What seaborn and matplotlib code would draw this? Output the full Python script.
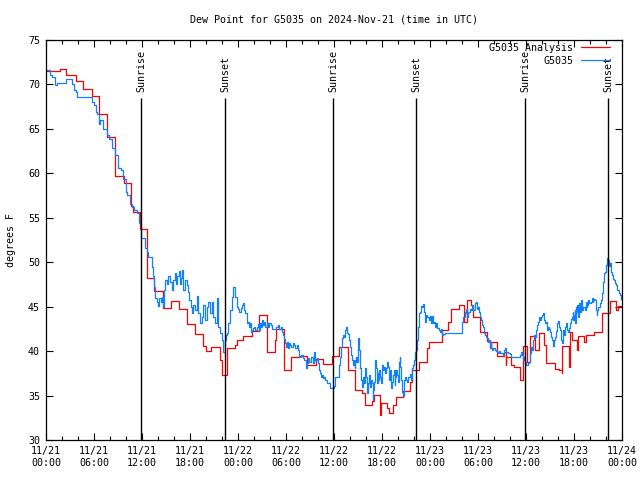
import matplotlib
matplotlib.use("Agg")
import matplotlib.pyplot as plt
import matplotlib.dates as mdates
from matplotlib.lines import Line2D
import pandas as pd
import seaborn as sns

# ---------------- data (hours after 2024-11-21 00:00 UTC, degrees F) ----------------
START = pd.Timestamp("2024-11-21 00:00")

red_hours = [0, 1.75, 2.5, 3.7, 4.67, 5.8, 6.6, 7.67, 8.6, 9.75, 10.67, 10.9, 11.8, 12.58,
             13.5, 14.58, 15.58, 16.6, 17.58, 18.6, 19.67, 20.0, 20.58, 21.7, 21.95, 22.67,
             23.6, 23.9, 24.67, 25.7, 26.58, 27.65, 28.6, 28.75, 29.7, 30.6, 31.58, 32.58,
             33.75, 34.67, 35.7, 36.67, 37.7, 38.67, 39.5, 39.9, 40.75, 40.96, 41.8, 41.9,
             42.6, 42.9, 43.33, 43.75, 44.6, 45.54, 45.75, 46.58, 47.6, 47.9, 49.5, 50.25,
             50.6, 51.58, 52.2, 52.67, 53.17, 53.4, 54.25, 55.17, 55.46, 55.67, 56.35, 57.25,
             57.45, 57.5, 58.17, 58.5, 59.3, 59.65, 60.17, 60.5, 61.1, 61.6, 62.25, 62.5,
             63.6, 64.1, 64.45, 64.55, 65.4, 65.5, 65.8, 66.4, 66.5, 67.25, 67.46, 68.5,
             69.45, 70.45, 71.25, 71.5, 72.0]
red_values = [71.5, 71.7, 71.06, 70.4, 69.45, 68.66, 66.67, 64.05, 59.66, 58.9, 56.3, 55.7, 53.7, 48.2,
              46.8, 44.8, 45.6, 44.7, 43.1, 41.9, 40.6, 40.0, 40.5, 39.0, 37.3, 40.4,
              40.7, 41.2, 41.7, 42.3, 44.1, 39.9, 41.25, 42.45, 37.9, 39.3, 39.5, 38.4,
              39.1, 38.6, 39.45, 40.5, 37.9, 35.6, 35.25, 33.9, 34.4, 35.06, 32.8, 34.2,
              33.56, 33.0, 33.9, 34.8, 35.5, 36.56, 37.9, 38.8, 40.3, 41.0, 42.4, 43.3,
              44.7, 45.2, 43.3, 45.8, 45.2, 43.8, 42.1, 41.1, 40.3, 41.06, 39.45, 39.9,
              38.4, 39.3, 38.4, 38.2, 36.75, 40.6, 38.8, 41.75, 40.1, 42.0, 40.7, 38.7,
              37.95, 37.85, 37.5, 40.6, 38.25, 42.2, 41.25, 40.1, 41.7, 41.06, 41.8, 42.2,
              44.3, 45.65, 44.6, 45.1, 45.1]

blue_hours = [
    0, 0.5, 0.79, 1.125, 1.33, 2.46, 3.3, 3.5, 3.7, 3.92, 5.8, 6.0, 6.2, 6.42, 6.6, 6.75,
    7.17, 7.67, 7.875, 8.3, 8.625, 9.0, 9.42, 9.67, 9.96, 10.17, 10.5, 10.8, 11.0, 11.33,
    11.625, 11.83, 11.92,
    11.96, 12.375, 12.58, 12.79, 13.21, 13.33, 13.5, 13.625, 13.83, 14.04, 14.17, 14.33,
    14.46, 14.58, 14.75, 14.92, 15.08, 15.29, 15.5, 15.71, 15.92, 16.125, 16.25, 16.42,
    16.58, 16.71, 16.83, 17.0, 17.17, 17.375, 17.58, 17.71, 17.92, 18.08, 18.25, 18.42,
    18.625, 18.83, 19.04, 19.25, 19.46, 19.67, 19.875, 20.08, 20.29, 20.5, 20.71, 20.92,
    21.125, 21.33, 21.54, 21.75, 21.96, 22.17, 22.375, 22.5, 22.67, 22.79, 23.0, 23.21,
    23.42, 23.625, 23.83, 24.04,
    24.17, 24.375, 24.5, 24.67, 24.79, 24.92, 25.08, 25.21, 25.33, 25.5, 25.625, 25.75,
    25.92, 26.04, 26.17, 26.33, 26.46, 26.58, 26.75, 26.875, 27.0, 27.17, 27.29, 27.42,
    27.58, 27.71, 27.92, 28.125, 28.25, 28.54, 28.75, 28.96, 29.17, 29.375, 29.5, 29.67,
    29.79, 29.92, 30.0, 30.125, 30.21, 30.33, 30.5, 30.625, 30.83, 31.04, 31.17, 31.33,
    31.46, 31.67, 31.875, 32.08, 32.29, 32.5, 32.58, 32.71, 32.92, 33.125, 33.33, 33.54,
    33.67, 33.83, 33.96, 34.08, 34.25, 34.375, 34.5, 34.67, 34.79, 34.92, 35.08, 35.33,
    35.54, 35.83, 36.04, 36.17,
    36.25, 36.5, 36.67, 36.79, 36.92, 37.0, 37.125, 37.21, 37.33, 37.42, 37.5, 37.625,
    37.75, 37.92, 38.04, 38.17, 38.25, 38.33, 38.46, 38.58, 38.67, 38.75, 38.875, 39.0,
    39.08, 39.17, 39.29, 39.42, 39.5, 39.58, 39.71, 39.83, 39.92, 40.04, 40.17, 40.25,
    40.33, 40.42, 40.54, 40.67, 40.75, 40.83, 40.92, 41.0, 41.08, 41.17, 41.29, 41.42,
    41.5, 41.58, 41.67, 41.79, 41.92, 42.0, 42.08, 42.21, 42.42, 42.5, 42.625, 42.75,
    42.83, 42.92, 43.04, 43.17, 43.25, 43.375, 43.46, 43.58, 43.67, 43.79, 43.875, 44.0,
    44.08, 44.21, 44.29, 44.42, 44.5, 44.58, 44.71, 44.83, 45.0, 45.125, 45.25, 45.42,
    45.54, 45.67, 45.75, 45.875, 45.96, 46.08, 46.17, 46.25, 46.375, 46.5, 46.58, 46.79,
    46.92, 47.0, 47.08, 47.21, 47.33, 47.42, 47.54, 47.67, 47.83, 48.0, 48.125, 48.25,
    48.375, 48.5, 48.67, 48.79, 48.92, 49.08, 49.21, 49.33, 49.5, 49.625, 49.83, 51.92,
    52.0, 52.125, 52.33, 52.42, 52.54, 52.67, 52.75, 52.96, 53.17, 53.29, 53.42, 53.58,
    53.71, 53.83, 53.92, 54.0, 54.125, 54.21, 54.33, 54.42, 54.54, 54.625, 54.75, 54.83,
    54.96, 55.08, 55.25, 55.375, 55.46, 55.58, 55.67, 55.79, 55.92, 56.08, 56.21, 56.33,
    56.5, 56.625, 56.75, 56.92, 57.125, 57.25, 57.42, 57.54, 57.75, 57.96, 58.17, 59.2,
    59.33, 59.5, 59.625, 59.75, 59.92, 60.04,
    60.25, 60.375, 60.5, 60.58, 60.67, 60.79, 60.92, 61.0, 61.125, 61.21, 61.33, 61.42,
    61.5, 61.625, 61.75, 61.83, 61.92, 62.04, 62.125, 62.25, 62.33, 62.46, 62.58, 62.67,
    62.75, 62.875, 63.0, 63.08, 63.17, 63.29, 63.42, 63.5, 63.58, 63.71, 63.83, 63.92,
    64.04, 64.125, 64.25, 64.33, 64.42, 64.5, 64.58, 64.67, 64.75, 64.83, 64.96, 65.08,
    65.25, 65.375, 65.5, 65.58, 65.71, 65.83, 65.92, 66.0, 66.08, 66.17, 66.25, 66.33,
    66.42, 66.5, 66.58, 66.67, 66.75, 66.83, 66.92, 67.04, 67.17, 67.33, 67.46, 67.58,
    67.67, 67.79, 67.92, 68.08, 68.21, 68.33, 68.42, 68.5, 68.625, 68.71, 68.83, 68.92,
    69.0, 69.125, 69.25, 69.42, 69.54, 69.67, 69.75, 69.875, 70.0, 70.08, 70.17, 70.29,
    70.42, 70.5, 70.58, 70.67, 70.79, 70.92, 71.0, 71.125, 71.25, 71.42, 71.58, 71.75,
    71.83, 72.0]
blue_values = [
    71.6, 71.06, 70.87, 69.94, 70.2, 70.58, 70.1, 69.4, 69.2, 68.55, 68.06, 67.7, 66.9, 66.67, 65.6, 66.0,
    64.95, 64.3, 63.86, 62.9, 62.06, 60.6, 60.4, 59.4, 57.93, 57.56, 56.6, 56.25, 55.9, 55.5,
    54.45, 53.6, 52.7,
    52.7, 51.56, 51.19, 50.63, 49.5, 48.4, 47.25, 45.94, 45.56, 45.08, 45.94, 45.56,
    46.05, 44.93, 46.9, 48.0, 47.6, 48.4, 47.8, 46.9, 48.0, 48.75, 47.6, 48.4,
    49.05, 47.6, 48.2, 49.1, 46.9, 48.0, 47.4, 46.7, 45.75, 44.93, 44.25, 45.19,
    44.63, 46.2, 44.25, 43.13, 43.88, 45.19, 43.5, 45.0, 45.56, 44.25, 45.56, 43.88,
    43.13, 45.94, 42.75, 42.0, 41.25, 39.94, 41.25, 41.8, 42.0, 43.13, 44.63, 46.13,
    47.25, 46.13, 45.0, 44.7,
    44.44, 44.8, 45.19, 45.37, 44.63, 44.25, 43.13, 43.31, 42.75, 43.13, 42.19, 42.38,
    42.56, 42.75, 42.38, 42.75, 43.05, 42.38, 43.13, 42.75, 43.5, 42.94, 43.31, 42.75,
    43.2, 42.75, 43.13, 42.94, 42.45, 42.45, 42.75, 42.94, 42.45, 42.68, 42.19, 41.81,
    41.33, 40.88, 40.5, 41.06, 40.31, 40.88, 40.69, 40.5, 40.88, 40.69, 40.31, 40.69,
    40.13, 39.38, 39.56, 39.19, 39.0, 38.06, 38.63, 39.19, 38.81, 39.3, 38.7, 39.94,
    39.0, 39.19, 38.63, 37.88, 37.5, 37.13, 37.31, 36.94, 37.13, 36.75, 36.38, 36.38,
    35.81, 35.81, 36.08, 37.05,
    37.05, 37.05, 38.44, 39.38, 40.5, 41.44, 41.81, 41.63, 42.08, 42.38, 42.75, 42.08,
    41.93, 41.25, 40.5, 39.56, 39.0, 38.44, 39.0, 38.06, 38.81, 39.38, 38.81, 41.44,
    40.88, 40.13, 38.06, 36.75, 36.0, 37.13, 36.38, 36.75, 38.06, 37.13, 35.25, 36.38,
    36.94, 37.31, 36.0, 36.75, 36.38, 34.5, 35.63, 36.56, 37.13, 39.0, 38.06, 36.38,
    37.5, 36.75, 37.88, 37.13, 36.38, 38.44, 37.88, 38.18, 37.5, 38.06, 38.81, 38.25,
    37.88, 36.75, 37.88, 35.81, 36.56, 37.31, 37.88, 36.19, 37.13, 37.88, 37.31, 36.56,
    38.81, 39.38, 38.25, 36.75, 35.44, 34.95, 36.75, 37.13, 36.75, 36.56, 37.13, 37.13,
    37.43, 36.75, 38.06, 38.44, 39.0, 39.38, 39.94, 40.13, 41.25, 42.75, 44.25, 44.44,
    45.08, 45.0, 45.3, 44.44, 44.06, 43.31, 44.06, 43.88, 43.5, 43.95, 43.13, 43.95,
    43.13, 43.31, 42.75, 43.13, 42.56, 42.38, 42.19, 42.45, 41.81, 41.93, 42.0, 42.0,
    43.31, 43.88, 44.44, 44.25, 44.7, 43.88, 44.44, 44.7, 44.63, 45.19, 44.63, 45.38,
    45.56, 45.38, 44.7, 45.0, 44.44, 43.88, 43.69, 43.5, 42.94, 42.75, 42.08, 41.81,
    41.63, 41.44, 41.06, 41.25, 40.5, 40.88, 40.31, 40.13, 40.31, 40.13, 40.05, 39.94,
    39.83, 40.05, 39.75, 39.83, 39.56, 40.13, 40.31, 39.94, 39.75, 39.68, 39.3, 39.56,
    39.94, 39.56, 39.0, 39.38, 38.81, 38.44,
    38.63, 38.81, 39.75, 40.13, 40.5, 40.13, 41.25, 41.81, 41.63, 42.38, 42.68, 42.94,
    43.31, 43.8, 43.5, 43.58, 43.88, 44.06, 44.33, 43.5, 43.13, 43.31, 42.68, 42.38,
    42.75, 42.45, 42.19, 42.0, 41.55, 41.25, 40.58, 41.25, 41.63, 42.3, 42.75, 43.13,
    43.43, 42.75, 42.38, 42.0, 41.25, 40.88, 41.63, 42.38, 41.81, 42.75, 43.2, 42.38,
    42.19, 42.56, 43.13, 43.58, 43.88, 44.44, 43.5, 44.06, 44.63, 43.13, 45.0, 44.44,
    45.19, 43.8, 44.81, 45.38, 44.44, 45.0, 45.75, 44.63, 45.0, 44.63, 45.56, 45.0,
    45.19, 45.75, 45.38, 45.56, 45.94, 45.56, 45.75, 45.83, 45.75, 44.63, 44.06, 44.63,
    45.0, 45.0, 45.38, 45.75, 46.5, 47.81, 48.75, 48.94, 49.69, 50.06, 50.44, 50.25,
    49.58, 49.88, 49.31, 48.94, 48.56, 48.08, 48.0, 47.63, 47.44, 46.88, 46.5, 46.31,
    45.83, 45.8]

sunrise_hours = [11.92, 35.92, 59.92]
sunset_hours = [22.4, 46.3, 70.3]

title = "Dew Point for G5035 on 2024-Nov-21 (time in UTC)"
series_names = ["G5035 Analysis", "G5035"]
series_colors = ["#ff0000", "#1080ff"]

# ---------------- styling ----------------
sns.set_style("ticks")
FS = 7.2
plt.rcParams["font.family"] = ["DejaVu Sans Mono", "DejaVu Sans"]
plt.rcParams.update({"text.color": "black", "axes.labelcolor": "black",
                     "xtick.color": "black", "ytick.color": "black",
                     "axes.edgecolor": "black", "font.size": FS})

def to_time(hours):
    return START + pd.to_timedelta(pd.Series(hours, dtype=float), unit="h")

df_red = pd.DataFrame({"time": to_time(red_hours), "dew": red_values})
df_blue = pd.DataFrame({"time": to_time(blue_hours), "dew": blue_values})

fig = plt.figure(figsize=(6.4, 4.8), dpi=100)
ax = fig.add_axes([46 / 640, 40 / 480, 576 / 640, 400 / 480])

sns.lineplot(data=df_red, x="time", y="dew", ax=ax, color=series_colors[0], lw=0.9,
             drawstyle="steps-post", estimator=None, sort=False, legend=False)
sns.lineplot(data=df_blue, x="time", y="dew", ax=ax, color=series_colors[1], lw=0.9,
             drawstyle="steps-post", estimator=None, sort=False, legend=False)

# sunrise / sunset markers
for hrs, lab in [(sunrise_hours, "Sunrise"), (sunset_hours, "Sunset")]:
    times = list(to_time(hrs).dt.to_pydatetime())
    ax.vlines(times, 30, 68.5, color="black", lw=1.0, zorder=4)
    for t in times:
        ax.text(t, 69.1, lab, rotation=90, ha="center", va="bottom", fontsize=FS)

ax.set_xlim(START.to_pydatetime(), (START + pd.Timedelta(hours=72)).to_pydatetime())
ax.set_ylim(30, 75)
ax.set_yticks(range(30, 76, 5))
ax.xaxis.set_major_locator(mdates.HourLocator(byhour=[0, 6, 12, 18]))
ax.xaxis.set_minor_locator(mdates.HourLocator(byhour=range(0, 24, 2)))
ax.xaxis.set_major_formatter(mdates.DateFormatter("%m/%d\n%H:%M"))
ax.tick_params(which="both", direction="in", top=True, right=True, width=0.8,
               labelsize=FS)
ax.tick_params(which="major", length=5)
ax.tick_params(which="minor", length=3)
ax.tick_params(axis="x", which="major", pad=4)
ax.tick_params(axis="y", which="major", pad=4.3)
for lbl in ax.get_xticklabels():
    lbl.set_linespacing(1.35)
for s in ax.spines.values():
    s.set_linewidth(0.9)
    s.set_color("black")
ax.set_xlabel("")
ax.set_ylabel("")

fig.text(334 / 640, 1 - 20 / 480, title, ha="center", va="center", fontsize=FS)
fig.text(11 / 640, 1 - 240 / 480, "degrees F", rotation=90, ha="center", va="center",
         fontsize=FS)

handles = [Line2D([], [], color=c, lw=0.9) for c in series_colors]
ax.legend(handles, series_names, loc="upper right",
          bbox_to_anchor=((610 - 46) / 576, (440 - 43) / 400),
          frameon=False, markerfirst=False, handlelength=2.9, handletextpad=0.8,
          borderaxespad=0, borderpad=0, labelspacing=0.3, fontsize=FS)

fig.savefig("out.png", dpi=100)
